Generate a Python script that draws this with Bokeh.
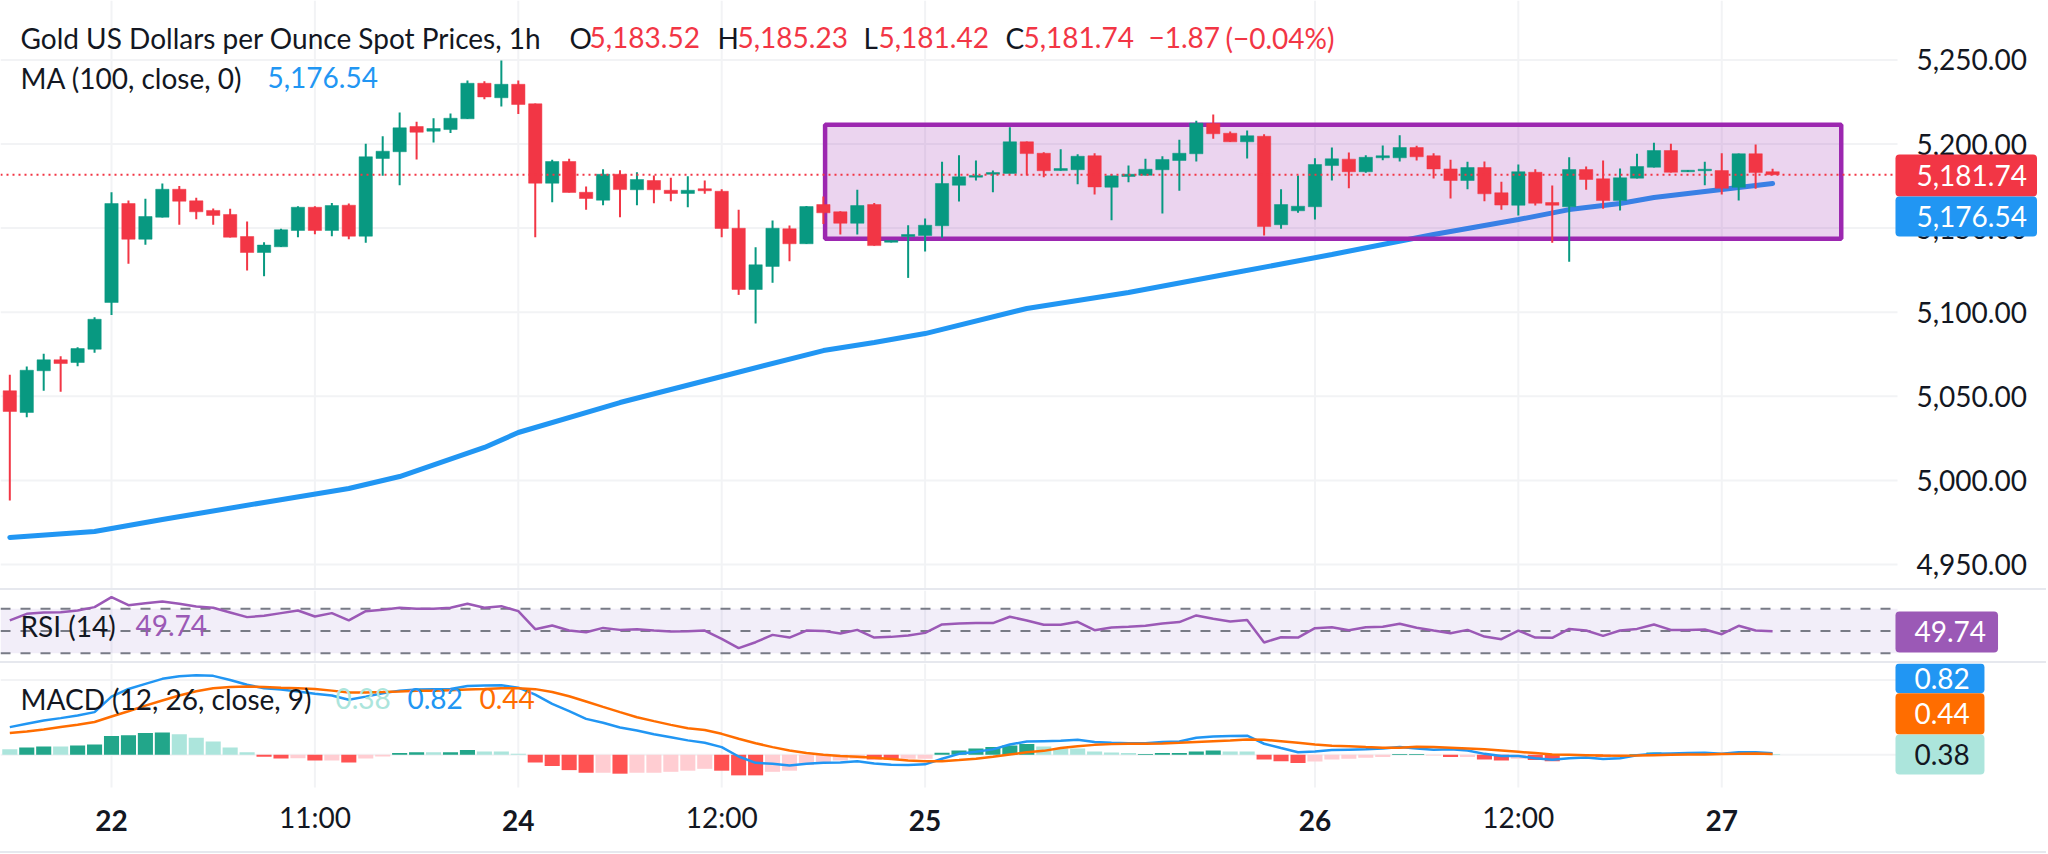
from bokeh.embed import file_html
from bokeh.layouts import column
from bokeh.models import (BoxAnnotation, ColumnDataSource, Div, FixedTicker, Label)
from bokeh.plotting import figure
from bokeh.resources import INLINE

# hourly candles
open_ = [5053.3, 5040.4, 5065.2, 5071.7, 5070.1, 5078.0, 5105.8, 5164.6, 5143.4, 5156.5,
         5173.1, 5166.2, 5160.5, 5158.1, 5145.0, 5135.5, 5138.9, 5148.6, 5162.4, 5148.6,
         5163.6, 5145.2, 5191.4, 5195.4, 5210.4, 5207.6, 5208.6, 5215.0, 5236.1, 5227.5,
         5235.5, 5223.9, 5176.7, 5189.6, 5171.3, 5166.6, 5182.0, 5172.8, 5178.3, 5172.5,
         5170.6, 5173.4, 5171.9, 5149.9, 5113.5, 5127.2, 5149.6, 5140.7, 5164.0, 5159.7,
         5152.9, 5164.0, 5141.6, 5145.0, 5145.6, 5151.4, 5175.5, 5180.3, 5182.0, 5182.5,
         5201.3, 5194.5, 5184.2, 5184.7, 5193.0, 5174.3, 5180.7, 5181.4, 5184.7, 5190.2,
         5194.2, 5212.2, 5206.4, 5201.3, 5204.6, 5152.0, 5160.3, 5162.7, 5187.2, 5191.0,
         5183.5, 5191.8, 5191.8, 5197.9, 5193.0, 5185.2, 5178.3, 5186.0, 5171.0, 5163.6,
         5183.2, 5165.2, 5162.7, 5184.8, 5179.3, 5166.4, 5179.7, 5186.2, 5196.1, 5183.5,
         5184.1, 5184.2, 5174.3, 5194.2, 5183.52]
high = [5062.8, 5067.7, 5075.3, 5073.8, 5079.2, 5097.0, 5171.3, 5166.4, 5167.4, 5176.5,
        5175.1, 5168.0, 5161.6, 5161.5, 5153.9, 5141.6, 5149.6, 5163.0, 5163.0, 5165.0,
        5164.6, 5200.1, 5204.6, 5218.7, 5213.2, 5215.3, 5218.1, 5237.7, 5237.3, 5249.6,
        5237.7, 5224.1, 5190.6, 5191.2, 5174.7, 5185.0, 5184.4, 5183.2, 5181.3, 5179.9,
        5180.8, 5178.3, 5173.1, 5160.9, 5138.6, 5154.5, 5151.5, 5163.1, 5168.8, 5160.0,
        5172.8, 5165.0, 5142.6, 5151.7, 5155.7, 5189.4, 5193.3, 5190.2, 5184.2, 5210.0,
        5201.5, 5195.1, 5196.9, 5193.9, 5194.5, 5182.0, 5187.2, 5191.2, 5192.7, 5202.5,
        5213.8, 5217.5, 5207.4, 5208.0, 5205.8, 5173.1, 5181.3, 5191.5, 5197.9, 5194.9,
        5193.3, 5199.1, 5205.2, 5198.9, 5194.5, 5190.6, 5189.4, 5189.6, 5177.5, 5187.8,
        5185.0, 5175.3, 5192.1, 5186.6, 5190.2, 5185.4, 5194.2, 5200.7, 5200.1, 5184.5,
        5189.4, 5194.5, 5194.3, 5199.7, 5185.23]
low = [4988.1, 5037.6, 5053.3, 5052.7, 5067.9, 5075.9, 5098.4, 5128.8, 5140.1, 5156.3,
       5152.0, 5155.3, 5152.0, 5144.4, 5124.8, 5121.4, 5138.8, 5144.6, 5146.4, 5145.2,
       5143.4, 5141.3, 5181.1, 5175.5, 5190.8, 5200.9, 5206.6, 5214.9, 5226.6, 5222.3,
       5217.8, 5144.6, 5165.4, 5171.1, 5160.9, 5163.6, 5156.5, 5163.6, 5164.8, 5166.0,
       5162.4, 5170.4, 5144.6, 5110.3, 5093.3, 5117.5, 5130.3, 5140.5, 5152.5, 5146.2,
       5146.2, 5139.5, 5141.5, 5120.4, 5136.1, 5144.2, 5165.8, 5178.3, 5171.3, 5182.4,
       5181.3, 5180.3, 5184.1, 5176.1, 5170.0, 5154.7, 5177.3, 5181.3, 5158.7, 5172.2,
       5189.6, 5203.1, 5201.2, 5191.4, 5145.6, 5149.6, 5159.1, 5155.1, 5178.3, 5173.7,
       5182.9, 5190.4, 5189.6, 5190.2, 5179.5, 5167.6, 5173.1, 5166.0, 5160.9, 5157.5,
       5163.4, 5141.3, 5130.0, 5172.8, 5161.5, 5160.5, 5179.5, 5186.0, 5183.0, 5183.4,
       5175.5, 5170.0, 5166.4, 5173.4, 5181.42]
close = [5041.0, 5065.5, 5071.7, 5069.5, 5078.4, 5095.8, 5164.6, 5143.4, 5156.9, 5173.1,
         5166.0, 5159.7, 5157.5, 5144.6, 5135.5, 5139.9, 5149.0, 5162.4, 5148.6, 5163.4,
         5145.2, 5192.4, 5195.7, 5209.6, 5207.0, 5209.2, 5215.3, 5236.1, 5228.0, 5235.5,
         5223.5, 5176.7, 5189.6, 5171.2, 5167.6, 5182.0, 5172.9, 5178.9, 5172.8, 5170.6,
         5172.5, 5172.2, 5149.8, 5113.5, 5128.2, 5149.9, 5140.7, 5162.8, 5159.1, 5152.9,
         5163.4, 5139.6, 5142.6, 5146.2, 5151.7, 5176.5, 5180.5, 5181.3, 5183.0, 5201.3,
         5194.3, 5184.1, 5185.4, 5192.7, 5174.5, 5181.1, 5182.0, 5185.0, 5190.8, 5194.5,
         5212.4, 5206.1, 5201.3, 5204.9, 5150.9, 5164.0, 5163.0, 5187.8, 5191.2, 5183.5,
         5192.1, 5193.0, 5197.9, 5192.4, 5185.2, 5178.3, 5186.0, 5170.4, 5163.7, 5183.5,
         5164.8, 5163.6, 5184.8, 5178.9, 5166.4, 5179.9, 5186.6, 5196.1, 5183.2, 5184.4,
         5185.0, 5173.7, 5194.2, 5183.0, 5181.74]

# 100 period moving average at the bars where it was read
ma_bars = [0, 5, 9, 15, 20, 23, 28, 30, 36, 42, 48, 51, 54, 60, 66, 72, 78, 84, 89, 92, 95, 97, 101, 104]
ma_values = [4966.1, 4969.6, 4976.8, 4986.9, 4995.2, 5002.3, 5019.6, 5028.5, 5046.3, 5061.8, 5077.2, 5082.0,
             5087.3, 5102.2, 5111.7, 5123.0, 5134.3, 5146.2, 5155.1, 5161.0, 5164.6, 5168.2, 5172.9, 5176.54]

rsi = [59.5, 65.5, 66.7, 67.0, 68.5, 71.5, 80.5, 73.3, 75.1, 76.6,
       74.5, 72.1, 70.9, 66.7, 62.5, 63.7, 66.1, 68.5, 63.1, 66.1,
       59.5, 67.9, 69.1, 70.9, 70.0, 70.0, 70.9, 74.5, 70.9, 72.4,
       67.9, 51.6, 54.9, 50.4, 48.9, 52.8, 51.0, 51.6, 50.4, 49.5,
       49.8, 50.4, 42.9, 34.5, 39.9, 46.5, 44.1, 50.4, 50.1, 47.7,
       51.0, 44.1, 44.7, 45.9, 48.3, 55.9, 56.8, 57.1, 57.1, 62.8,
       59.5, 55.6, 55.6, 58.3, 50.7, 53.1, 53.8, 54.7, 56.8, 58.0,
       64.0, 61.0, 58.6, 59.8, 39.6, 44.4, 44.1, 52.5, 53.4, 50.7,
       53.4, 53.8, 56.5, 52.9, 50.4, 48.0, 51.0, 45.0, 42.6, 50.4,
       44.1, 43.8, 51.9, 50.4, 45.6, 50.4, 51.9, 55.9, 51.0, 51.0,
       51.3, 47.1, 54.7, 50.4, 49.74]

macd = [14.8, 16.6, 18.3, 19.6, 21.0, 22.8, 31.1, 35.2, 37.9, 40.6,
        42.0, 42.5, 42.2, 40.0, 37.4, 35.6, 34.9, 33.8, 32.6, 31.7,
        29.4, 31.1, 32.9, 34.3, 34.9, 35.1, 35.2, 36.8, 37.0, 37.2,
        35.9, 32.2, 27.2, 23.3, 19.2, 17.1, 14.6, 13.0, 11.0, 9.4,
        7.7, 6.4, 4.1, -0.9, -4.3, -4.8, -5.7, -4.8, -4.3, -4.1,
        -3.4, -4.6, -5.3, -5.5, -5.1, -2.1, 0.5, 1.6, 2.9, 5.5,
        7.1, 7.3, 7.5, 8.0, 6.8, 6.4, 6.2, 6.2, 6.8, 7.1,
        9.1, 9.8, 10.0, 10.2, 5.9, 3.6, 1.4, 1.8, 2.5, 2.7,
        2.9, 3.4, 4.1, 3.4, 2.7, 2.9, 2.3, 0.5, -0.7, -0.7,
        -1.8, -2.7, -1.8, -1.4, -2.3, -1.8, -0.2, 0.5, 0.7, 0.9,
        1.1, 0.5, 1.4, 1.3, 0.82]
signal = [11.6, 12.5, 13.5, 14.8, 16.0, 17.5, 20.5, 23.3, 26.3, 29.0,
          31.7, 34.0, 35.6, 36.3, 36.5, 36.3, 35.9, 35.6, 35.2, 34.3,
          33.3, 33.3, 33.5, 33.8, 34.2, 34.2, 34.5, 34.9, 35.2, 35.6,
          35.6, 35.1, 33.6, 31.3, 28.5, 25.6, 22.8, 20.1, 18.0, 16.0,
          14.2, 13.3, 11.2, 8.6, 6.2, 4.1, 2.3, 0.9, 0.0, -0.7,
          -1.1, -1.6, -2.3, -3.0, -3.4, -3.4, -2.8, -2.1, -1.1, 0.2,
          1.3, 2.1, 3.6, 4.6, 5.3, 5.7, 5.9, 5.9, 6.1, 6.4,
          6.9, 7.3, 7.7, 8.2, 8.0, 7.3, 6.4, 5.5, 4.8, 4.5,
          4.1, 3.8, 3.8, 4.3, 4.1, 3.8, 3.4, 2.9, 2.3, 1.6,
          0.9, 0.2, 0.0, -0.2, -0.4, -0.5, -0.4, -0.2, 0.0, 0.2,
          0.2, 0.4, 0.5, 0.7, 0.44]
hist = [3.0, 3.9, 4.4, 4.4, 5.0, 5.5, 10.0, 10.5, 11.6, 11.9,
        11.0, 9.1, 7.1, 3.9, 1.4, -1.1, -2.0, -1.8, -3.0, -3.0,
        -4.1, -2.0, -0.9, 0.9, 1.4, 1.4, 1.4, 2.5, 1.8, 1.8,
        0.5, -4.1, -6.0, -8.2, -9.6, -9.6, -10.1, -9.6, -9.6, -9.1,
        -8.5, -7.5, -8.5, -11.0, -11.0, -9.1, -8.5, -5.5, -4.1, -3.0,
        -2.1, -2.5, -2.5, -2.1, -2.1, 1.1, 2.3, 3.4, 4.1, 5.0,
        5.7, 4.4, 3.4, 3.4, 1.8, 1.2, 0.9, 0.4, 0.9, 0.9,
        1.8, 2.3, 1.8, 1.8, -2.5, -3.4, -4.4, -3.6, -2.5, -2.1,
        -1.6, -1.2, 0.4, 0.4, -0.4, -1.2, -1.2, -2.5, -3.0, -2.1,
        -2.8, -3.4, -0.7, -0.5, -1.1, -0.5, 0.4, 1.2, 0.7, 0.5,
        0.5, 0.4, 0.7, 0.5, 0.38]
# G/R strong shade, g/r faded shade
hist_shade = list("gGGgGGGGGG" "gggggRRrRr" "RrrGGgGGgg" "gRRRRrRrrr"
                  "rrRRRrrrrr" "rRRrrGGGGG" "GggggggGGG" "GGggRRRrrr"
                  "rrGGrRrRRr" "RRrrRrGGgg" "ggGgg")

price_ticks = [4950, 5000, 5050, 5100, 5150, 5200, 5250]
time_ticks = [18, 42, 89]
time_labels = {18: "11:00", 42: "12:00", 89: "12:00"}
day_ticks = [6, 30, 54, 77, 101]
day_labels = ["22", "24", "25", "26", "27"]
box_left, box_right, box_top, box_bottom = 48.1, 108.05, 5211.4, 5143.6

last_price, ma_last, rsi_last, macd_last, signal_last, hist_last = 5181.74, 5176.54, 49.74, 0.82, 0.44, 0.38

FONT = "Lato"
SIZE = "28px"
TEXT = "#131722"
UP, DOWN = "#089981", "#f23645"
BLUE, ORANGE, PURPLE, MINT = "#2196f3", "#ff6d00", "#9b59b6", "#ace5dc"
GRID = "#f2f3f5"
WIDTH = 2046
# the bar scale runs on past the plot area so the price column stays inside the frame
X_START, X_PLOT_END, X_END = -0.549, 111.37, 120.16
TAG_LEFT = 111.25
TAG_WIDE, TAG_MID, TAG_NARROW = 119.6, 117.3, 116.5
PANE_BOTTOM = -17.5  # macd value where the time axis starts
shades = {"G": "#22a68a", "g": MINT, "R": "#ff5252", "r": "#ffcdd2"}


def make_fig(height, y_range, y_axis=None, x_axis=None):
    f = figure(width=WIDTH, height=height, frame_width=WIDTH, frame_height=height,
               x_range=(X_START, X_END), y_range=y_range, y_axis_location=y_axis, x_axis_location=x_axis,
               output_backend="svg", toolbar_location=None, tools="",
               min_border_left=0, min_border_top=0, min_border_bottom=0, min_border_right=0)
    f.outline_line_color = None
    f.background_fill_color = "white"
    f.grid.visible = False
    return f


def grid(f, y_ticks, y_low, y_high):
    ticks = sorted(time_ticks + day_ticks)
    f.segment(ticks, y_low, ticks, y_high, line_color=GRID, line_width=2, level="image")
    if y_ticks:
        f.segment(X_START, y_ticks, X_PLOT_END, y_ticks, line_color=GRID, line_width=2, level="image")


def style_axis(axis, standoff):
    axis.axis_line_color = None
    axis.major_tick_line_color = None
    axis.minor_tick_line_color = None
    axis.major_label_text_font = FONT
    axis.major_label_text_font_size = SIZE
    axis.major_label_text_color = TEXT
    axis.major_label_standoff = standoff


def text(f, x, y, s, color=TEXT):
    f.add_layout(Label(x=x, y=y, x_units="screen", y_units="screen", text=s, text_font=FONT,
                       text_font_size=SIZE, text_color=color, text_baseline="middle"))


def tag(f, right, top, bottom, s, color, text_x, text_color="white"):
    f.add_layout(BoxAnnotation(left=TAG_LEFT, right=right, top=top, bottom=bottom, fill_color=color, fill_alpha=1,
                               line_color=None, border_radius=4))
    f.add_layout(Label(x=text_x, y=(top + bottom) / 2, x_units="screen", text=s, text_font=FONT,
                       text_font_size=SIZE, text_color=text_color, text_baseline="middle"))


# price pane
p = make_fig(588, (4935.75, 5285.31), y_axis="right")
bars = list(range(len(close)))
candles = ColumnDataSource(dict(
    x=bars, high=high, low=low,
    top=[max(o, c) for o, c in zip(open_, close)],
    bottom=[min(o, c) for o, c in zip(open_, close)],
    color=[UP if c >= o else DOWN for o, c in zip(open_, close)]))

grid(p, price_ticks, 4935.75, 5285.31)
p.yaxis.fixed_location = X_PLOT_END
p.yaxis.ticker = FixedTicker(ticks=price_ticks)
p.yaxis.major_label_overrides = {t: f"{t:,.2f}" for t in price_ticks}
style_axis(p.yaxis, 13)

p.line(ma_bars, ma_values, line_color=BLUE, line_width=5, line_cap="round", level="image")
p.add_layout(BoxAnnotation(left=box_left, right=box_right, top=box_top, bottom=box_bottom,
                           fill_color="#9c27b0", fill_alpha=0.2, line_color="#9c27b0", line_alpha=1,
                           line_width=4.5, level="underlay"))
p.segment("x", "high", "x", "low", source=candles, line_color="color", line_width=2)
p.vbar("x", 0.785, "top", "bottom", source=candles, fill_color="color", line_color="color", line_width=0.5)
p.segment(X_START, last_price, X_PLOT_END, last_price, line_color=DOWN, line_width=2, line_dash="2 4")

header = [("Gold US Dollars per Ounce Spot Prices, 1h", 20, TEXT), ("O", 569, TEXT), ("5,183.52", 589, DOWN),
          ("H", 717, TEXT), ("5,185.23", 737, DOWN), ("L", 863, TEXT), ("5,181.42", 878, DOWN),
          ("C", 1005, TEXT), ("5,181.74", 1023, DOWN), ("\u22121.87", 1148, DOWN), ("(\u22120.04%)", 1225, DOWN)]
for s, x, color in header:
    text(p, x, 588 - 37, s, color)
text(p, 20, 588 - 77, "MA (100, close, 0)")
text(p, 267, 588 - 77, f"{ma_last:,.2f}", BLUE)

tag(p, TAG_WIDE, 5193.76, 5168.79, f"{last_price:,.2f}", DOWN, 1916)
tag(p, TAG_WIDE, 5168.79, 5145.0, f"{ma_last:,.2f}", BLUE, 1916)

# rsi pane
p_rsi = make_fig(71, (22.5, 86.5))
grid(p_rsi, None, 22.5, 86.5)
p_rsi.add_layout(BoxAnnotation(bottom=30, top=70, right=X_PLOT_END, fill_color="#7e57c2", fill_alpha=0.1,
                               line_color=None, level="underlay"))
for level in [70, 50, 30]:
    p_rsi.segment(X_START, level, X_PLOT_END, level, line_color="#787b86", line_width=2, line_dash="10 10")
p_rsi.line(bars, rsi, line_color=PURPLE, line_width=2.5)
text(p_rsi, 20, 661 - 625, "RSI (14)")
text(p_rsi, 135, 661 - 625, f"{rsi_last:.2f}", PURPLE)
tag(p_rsi, TAG_MID, 67.6, 30.6, f"{rsi_last:.2f}", PURPLE, 1914)

# macd pane, the time axis sits in the lower part of the same frame
p_macd = make_fig(188, (-51.7, 48.8), x_axis="below")
grid(p_macd, [0, 40], PANE_BOTTOM, 48.8)
p_macd.xaxis.fixed_location = PANE_BOTTOM
p_macd.xaxis.ticker = FixedTicker(ticks=time_ticks)
p_macd.xaxis.major_label_overrides = time_labels
style_axis(p_macd.xaxis, 6)
p_macd.vbar(bars, 0.89, hist, 0, fill_color=[shades[s] for s in hist_shade], line_color=None)
p_macd.line(bars, macd, line_color=BLUE, line_width=2.5)
p_macd.line(bars, signal, line_color=ORANGE, line_width=2.5)
for tick, s in zip(day_ticks, day_labels):
    p_macd.add_layout(Label(x=tick, y=851 - 820, y_units="screen", text=s, text_font=FONT, text_font_size=SIZE,
                            text_font_style="bold", text_color=TEXT, text_align="center",
                            text_baseline="middle"))
text(p_macd, 20, 851 - 698, "MACD (12, 26, close, 9)")
text(p_macd, 335, 851 - 698, f"{hist_last:.2f}", MINT)
text(p_macd, 407, 851 - 698, f"{macd_last:.2f}", BLUE)
text(p_macd, 479, 851 - 698, f"{signal_last:.2f}", ORANGE)
tag(p_macd, TAG_NARROW, 48.8, 32.9, f"{macd_last:.2f}", BLUE, 1914)
tag(p_macd, TAG_NARROW, 32.9, 10.9, f"{signal_last:.2f}", ORANGE, 1914)
tag(p_macd, TAG_NARROW, 10.9, -10.5, f"{hist_last:.2f}", MINT, 1914, text_color=TEXT)


def rule():
    return Div(width=WIDTH, height=2, margin=0, styles={"background-color": "#e6e8ee"})


page = column(p, rule(), p_rsi, rule(), p_macd, rule(), spacing=0)
open("out.html", "w").write(file_html(page, INLINE))
